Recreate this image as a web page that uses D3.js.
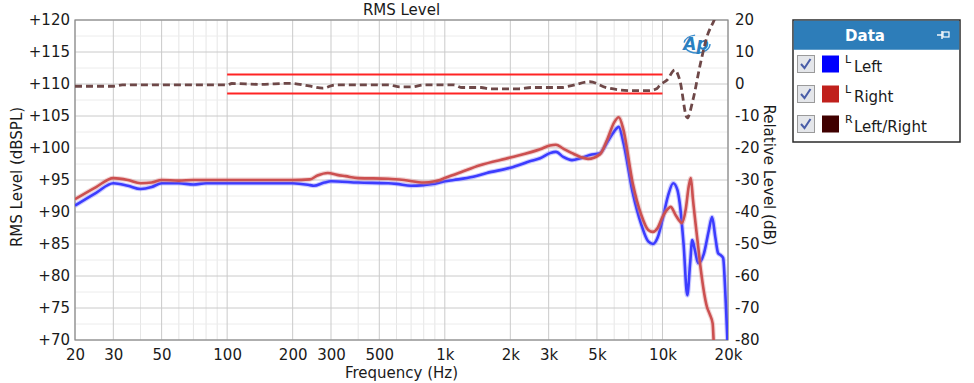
<!DOCTYPE html>
<html>
<head>
<meta charset="utf-8">
<script src="https://cdn.jsdelivr.net/npm/d3@7"></script>
<style>
  html, body { margin: 0; padding: 0; background: #ffffff; }
  svg { display: block; font-family: "DejaVu Sans", sans-serif; }
</style>
</head>
<body>
<svg id="chart" width="974" height="383"></svg>
<script>
// ---------------- DATA ----------------
const chartTitle = "RMS Level";
const xLabel = "Frequency (Hz)";
const yLeftLabel = "RMS Level (dBSPL)";
const yRightLabel = "Relative Level (dB)";

const xTickValues = [20, 30, 50, 100, 200, 300, 500, 1000, 2000, 3000, 5000, 10000, 20000];
const xTickLabels = ["20", "30", "50", "100", "200", "300", "500", "1k", "2k", "3k", "5k", "10k", "20k"];
const xMinorGrid = [40, 60, 70, 80, 90, 400, 600, 700, 800, 900, 4000, 6000, 7000, 8000, 9000];
const yLeftTicks = [70, 75, 80, 85, 90, 95, 100, 105, 110, 115, 120];
const yLeftMinor = [72.5, 77.5, 82.5, 87.5, 92.5, 97.5, 102.5, 107.5, 112.5, 117.5];
const yRightTicks = [-80, -70, -60, -50, -40, -30, -20, -10, 0, 10, 20];

const legendNames = ["Left", "Right", "Left/Right"];
const legendSup = ["L", "L", "R"];
const legendColors = ["#0000ff", "#c0201c", "#400000"];

// Left channel (dBSPL)
const leftFreq = [20, 25, 30, 35, 40, 45, 50, 60, 70, 80, 100, 150, 200, 240, 250, 280, 300, 400, 550, 600, 700, 800, 900, 1000, 1100, 1350, 1560, 2000, 2500, 2740, 3040, 3240, 3500, 3840, 4200, 4640, 5160, 5600, 6000, 6300, 6600, 7300, 8000, 8600, 9040, 9500, 10000, 10600, 11200, 11700, 12000, 12500, 13000, 13400, 13700, 14100, 14600, 15500, 16300, 16900, 17500, 18000, 18600, 19000, 19400, 19600, 20000];
const leftLevel = [91.0, 93.0, 94.5, 94.1, 93.6, 93.9, 94.5, 94.5, 94.3, 94.5, 94.5, 94.5, 94.5, 94.2, 94.1, 94.6, 94.8, 94.6, 94.5, 94.4, 94.1, 94.2, 94.4, 94.8, 95.0, 95.5, 96.1, 96.9, 98.0, 98.4, 99.2, 99.4, 98.6, 98.1, 98.4, 98.9, 99.2, 101.0, 102.6, 103.3, 101.0, 93.0, 88.0, 85.4, 85.0, 86.0, 88.8, 92.5, 94.5, 93.5, 91.4, 85.0, 77.0, 82.0, 85.6, 84.0, 82.0, 83.5, 87.0, 89.2, 86.0, 83.6, 83.2, 82.8, 78.0, 74.7, 68.0];

// Right channel (dBSPL)
const rightFreq = [20, 25, 30, 35, 40, 45, 50, 60, 70, 100, 150, 200, 240, 260, 290, 320, 350, 400, 550, 650, 800, 900, 950, 1000, 1200, 1450, 2000, 2740, 3040, 3240, 3500, 3840, 4200, 4550, 5160, 5600, 6000, 6300, 6600, 7300, 8000, 8600, 9040, 9500, 10000, 10600, 10900, 11500, 12300, 12800, 13200, 13500, 13800, 14600, 15000, 16000, 16500, 17000, 17200, 17400];
const rightLevel = [92.0, 93.9, 95.3, 95.0, 94.5, 94.6, 95.0, 94.9, 95.0, 95.0, 95.0, 95.0, 95.1, 95.7, 96.1, 95.8, 95.6, 95.3, 95.2, 95.0, 94.6, 94.8, 95.0, 95.3, 96.3, 97.3, 98.5, 99.8, 100.4, 100.5, 99.9, 99.2, 98.6, 98.3, 99.0, 101.5, 104.0, 104.8, 103.0, 94.5, 89.5, 87.2, 86.9, 87.5, 89.2, 90.5, 90.8, 89.5, 88.3, 90.5, 94.0, 95.3, 92.0, 84.5, 81.0, 75.2, 74.0, 72.6, 69.5, 66.0];

// Left/Right relative level (dB, right axis)
const ratioFreq = [20, 30, 33, 100, 105, 140, 194, 238, 275, 313, 554, 622, 706, 802, 1100, 1200, 1470, 1600, 2190, 2490, 3420, 3720, 4640, 5560, 7400, 8670, 9440, 9740, 10500, 11400, 12000, 13000, 13800, 14900, 16000, 17400, 18500];
const ratioLevel = [-0.7, -0.7, -0.3, -0.3, 0.15, -0.1, 0.2, -0.6, -1.3, -0.3, -0.3, -0.9, -0.9, -0.3, -0.3, -1.1, -1.1, -1.5, -1.5, -1.1, -1.1, -0.7, 0.7, -1.2, -2.1, -2.1, -1.4, -0.3, 1.25, 4.4, 1.3, -10.6, -5.0, 6.0, 14.7, 20.5, 26.0];

// Limit lines (relative dB)
const limitFreq = [100, 10000];
const limitUpper = [3, 3];
const limitLower = [-3, -3];

// ---------------- CHART ----------------
const svg = d3.select("#chart");
const plot = { left: 75, right: 728, top: 20, bottom: 340 };

const x = d3.scaleLog().domain([20, 20000]).range([plot.left, plot.right]);
const yL = d3.scaleLinear().domain([70, 120]).range([plot.bottom, plot.top]);
const yR = d3.scaleLinear().domain([-80, 20]).range([plot.bottom, plot.top]);

svg.append("defs").append("clipPath").attr("id", "clip")
  .append("rect").attr("x", plot.left).attr("y", plot.top)
  .attr("width", plot.right - plot.left).attr("height", plot.bottom - plot.top);

// grid
const grid = svg.append("g");
grid.selectAll(".vmin").data(xMinorGrid).join("line")
  .attr("x1", d => x(d)).attr("x2", d => x(d)).attr("y1", plot.top).attr("y2", plot.bottom)
  .attr("stroke", "#e6e6e6").attr("stroke-width", 1);
grid.selectAll(".hmin").data(yLeftMinor).join("line")
  .attr("x1", plot.left).attr("x2", plot.right).attr("y1", d => yL(d)).attr("y2", d => yL(d))
  .attr("stroke", "#ececec").attr("stroke-width", 1);
grid.selectAll(".vmaj").data(xTickValues).join("line")
  .attr("x1", d => x(d)).attr("x2", d => x(d)).attr("y1", plot.top).attr("y2", plot.bottom)
  .attr("stroke", "#cacaca").attr("stroke-width", 1);
grid.selectAll(".hmaj").data(yLeftTicks).join("line")
  .attr("x1", plot.left).attr("x2", plot.right).attr("y1", d => yL(d)).attr("y2", d => yL(d))
  .attr("stroke", "#cacaca").attr("stroke-width", 1);

// frame
svg.append("rect").attr("x", plot.left).attr("y", plot.top)
  .attr("width", plot.right - plot.left).attr("height", plot.bottom - plot.top)
  .attr("fill", "none").attr("stroke", "#8a8a8a").attr("stroke-width", 1.2);

// axes
const fs = 15;
const axL = svg.append("g").attr("transform", `translate(${plot.left},0)`)
  .call(d3.axisLeft(yL).tickValues(yLeftTicks).tickFormat(d => "+" + d).tickSize(0).tickPadding(5));
const axR = svg.append("g").attr("transform", `translate(${plot.right},0)`)
  .call(d3.axisRight(yR).tickValues(yRightTicks).tickFormat(d => String(d)).tickSize(0).tickPadding(7));
const axB = svg.append("g").attr("transform", `translate(0,${plot.bottom})`)
  .call(d3.axisBottom(x).tickValues(xTickValues).tickFormat((d, i) => xTickLabels[i]).tickSize(0).tickPadding(9));
[axL, axR, axB].forEach(a => {
  a.select(".domain").remove();
  a.selectAll("text").attr("font-size", fs).attr("fill", "#1a1a1a")
    .attr("font-family", "DejaVu Sans, sans-serif");
});

// titles
svg.append("text").attr("x", (plot.left + plot.right) / 2).attr("y", 15)
  .attr("text-anchor", "middle").attr("font-size", fs).attr("fill", "#1a1a1a").text(chartTitle);
svg.append("text").attr("x", (plot.left + plot.right) / 2).attr("y", 378)
  .attr("text-anchor", "middle").attr("font-size", fs).attr("fill", "#1a1a1a").text(xLabel);
svg.append("text").attr("transform", `translate(22,${(plot.top + plot.bottom) / 2 - 3}) rotate(-90)`)
  .attr("text-anchor", "middle").attr("font-size", fs).attr("fill", "#1a1a1a").text(yLeftLabel);
svg.append("text").attr("transform", `translate(764,${(plot.top + plot.bottom) / 2 - 5}) rotate(90)`)
  .attr("text-anchor", "middle").attr("font-size", fs).attr("fill", "#1a1a1a").text(yRightLabel);

// AP logo
const logo = svg.append("g").attr("transform", "translate(697,44)");
logo.append("ellipse").attr("cx", 0).attr("cy", 0).attr("rx", 13).attr("ry", 9)
  .attr("fill", "none").attr("stroke", "#3a8ccc").attr("stroke-width", 1.4)
  .attr("stroke-dasharray", "30,6,14,50");
logo.append("text").attr("x", -1).attr("y", 6).attr("text-anchor", "middle")
  .attr("font-size", 17).attr("font-style", "italic").attr("font-weight", "bold")
  .attr("fill", "#2a7fc0").text("Ap");

// data lines
const lines = svg.append("g").attr("clip-path", "url(#clip)");
const curve = d3.curveMonotoneX;
const lineL = d3.line().x(d => x(d[0])).y(d => yL(d[1])).curve(curve);
const lineR = d3.line().x(d => x(d[0])).y(d => yR(d[1])).curve(curve);

const leftData = leftFreq.map((f, i) => [f, leftLevel[i]]);
const rightData = rightFreq.map((f, i) => [f, rightLevel[i]]);
const ratioData = ratioFreq.map((f, i) => [f, ratioLevel[i]]);

// limits
[limitUpper, limitLower].forEach(arr => {
  lines.append("path").datum(limitFreq.map((f, i) => [f, arr[i]]))
    .attr("d", d3.line().x(d => x(d[0])).y(d => yR(d[1])))
    .attr("fill", "none").attr("stroke", "#ff2424").attr("stroke-width", 2);
});

function drawSeries(data, gen, halo, core, width) {
  lines.append("path").datum(data).attr("d", gen).attr("fill", "none")
    .attr("stroke", halo).attr("stroke-width", width + 2.2).attr("stroke-opacity", 0.35)
    .attr("stroke-linejoin", "round");
  lines.append("path").datum(data).attr("d", gen).attr("fill", "none")
    .attr("stroke", core).attr("stroke-width", width).attr("stroke-linejoin", "round");
}
drawSeries(leftData, lineL, "#6b6bff", "#3c3cff", 2.6);
drawSeries(rightData, lineL, "#d88080", "#cc5050", 2.6);

lines.append("path").datum(ratioData).attr("d", lineR).attr("fill", "none")
  .attr("stroke", "#6e4848").attr("stroke-width", 2.8).attr("stroke-dasharray", "7,4");

// legend
const lg = svg.append("g").attr("transform", "translate(793,20)");
lg.append("rect").attr("x", 0).attr("y", 0).attr("width", 167).attr("height", 122)
  .attr("fill", "#ffffff").attr("stroke", "#2a2a2a").attr("stroke-width", 1.5);
lg.append("rect").attr("x", 0.75).attr("y", 0.75).attr("width", 165.5).attr("height", 29)
  .attr("fill", "#2d7db9");
lg.append("text").attr("x", 72).attr("y", 21).attr("text-anchor", "middle")
  .attr("font-size", 15).attr("font-weight", "bold").attr("fill", "#ffffff").text("Data");
// pin icon
const pin = lg.append("g").attr("transform", "translate(150,15)").attr("stroke", "#ffffff").attr("fill", "none");
pin.append("line").attr("x1", -6).attr("x2", -1).attr("y1", 0).attr("y2", 0).attr("stroke-width", 1.4);
pin.append("line").attr("x1", -1).attr("x2", -1).attr("y1", -4).attr("y2", 4).attr("stroke-width", 1.4);
pin.append("rect").attr("x", 0).attr("y", -3).attr("width", 6).attr("height", 5).attr("stroke-width", 1.2);

const rows = lg.selectAll(".row").data(legendNames).join("g")
  .attr("transform", (d, i) => `translate(0,${44 + i * 30})`);
rows.append("rect").attr("x", 4.5).attr("y", -8.5).attr("width", 17).attr("height", 17)
  .attr("fill", "#e4e6ea").attr("stroke", "#9a9a9a").attr("stroke-width", 1);
rows.append("path").attr("d", "M8,0 L11.5,4 L17.5,-5").attr("fill", "none")
  .attr("stroke", "#4a5ea8").attr("stroke-width", 2);
rows.append("rect").attr("x", 29).attr("y", -8.5).attr("width", 17).attr("height", 17)
  .attr("fill", (d, i) => legendColors[i]);
rows.append("text").attr("x", 52).attr("y", -1).attr("font-size", 11)
  .attr("fill", "#1a1a1a").text((d, i) => legendSup[i]);
rows.append("text").attr("x", 61).attr("y", 8).attr("font-size", 15)
  .attr("fill", "#1a1a1a").text(d => d);
</script>
</body>
</html>
